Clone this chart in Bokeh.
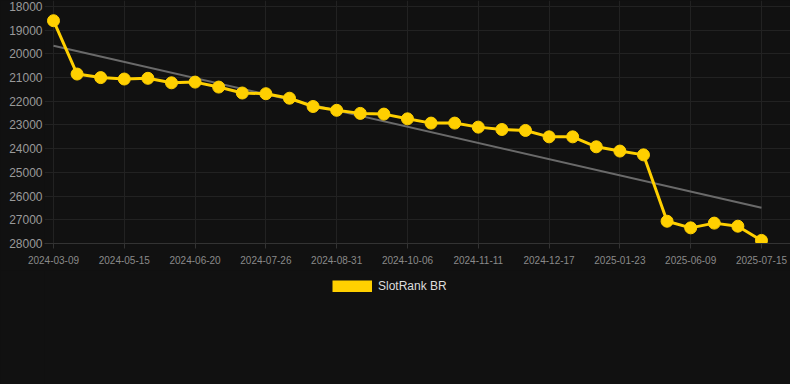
import numpy as np
from bokeh.plotting import figure
from bokeh.layouts import column
from bokeh.models import (ColumnDataSource, Range1d, FixedTicker, Legend, LegendItem)
from bokeh.embed import file_html
from bokeh.resources import INLINE

dates = ["2024-03-09", "2024-03-31", "2024-04-22", "2024-05-15", "2024-05-27", "2024-06-08",
         "2024-06-20", "2024-07-02", "2024-07-14", "2024-07-26", "2024-08-07", "2024-08-19",
         "2024-08-31", "2024-09-12", "2024-09-24", "2024-10-06", "2024-10-18", "2024-10-30",
         "2024-11-11", "2024-11-23", "2024-12-05", "2024-12-17", "2024-12-29", "2025-01-10",
         "2025-01-23", "2025-02-04", "2025-05-04", "2025-06-09", "2025-06-21", "2025-07-03",
         "2025-07-15"]
ranks = [18600, 20850, 21000, 21060, 21030, 21220, 21190, 21400, 21650, 21680, 21870, 22220,
         22380, 22510, 22540, 22740, 22920, 22920, 23090, 23190, 23230, 23500, 23500, 23920,
         24100, 24260, 27060, 27340, 27140, 27270, 27870]
y_ticks = [18000, 19000, 20000, 21000, 22000, 23000, 24000, 25000, 26000, 27000, 28000]
series_name = "SlotRank BR"

BG = "#111111"
GOLD = "#FFD000"

idx = list(range(len(dates)))
src = ColumnDataSource(dict(x=idx, y=ranks))

coef = np.polyfit(idx, ranks, 1)
trend_x = [idx[0], idx[-1]]
trend_y = [float(np.polyval(coef, v)) for v in trend_x]

p = figure(width=790, height=270, output_backend="svg", toolbar_location=None,
           x_range=Range1d(-0.381, 31.23), y_range=Range1d(28000, 17747),
           background_fill_color=BG, border_fill_color=BG,
           min_border_left=44, min_border_right=0, min_border_top=0, min_border_bottom=27)
p.outline_line_color = None

p.line(trend_x, trend_y, line_color="#6a6a6a", line_width=2)
p.line("x", "y", source=src, line_color=GOLD, line_width=3)
p.scatter("x", "y", source=src, size=12, fill_color=GOLD, line_color=GOLD)

# axes
xa = p.xaxis[0]
xa.ticker = FixedTicker(ticks=idx[::3])
xa.major_label_overrides = {i: dates[i] for i in idx[::3]}
xa.axis_line_color = "#333333"
xa.major_tick_line_color = "#333333"
xa.major_tick_in = 0
xa.major_tick_out = 5
xa.minor_tick_line_color = None
xa.major_label_text_color = "#8a8a8a"
xa.major_label_text_font = "Liberation Sans"
xa.major_label_text_font_size = "10px"
xa.major_label_standoff = 7

ya = p.yaxis[0]
ya.ticker = FixedTicker(ticks=y_ticks)
ya.axis_line_color = None
ya.major_tick_line_color = None
ya.minor_tick_line_color = None
ya.major_tick_in = 0
ya.major_tick_out = 0
ya.minor_tick_in = 0
ya.minor_tick_out = 0
ya.major_label_text_color = "#9a9a9a"
ya.major_label_text_font = "Liberation Sans"
ya.major_label_text_font_size = "12px"
ya.major_label_standoff = 2

p.xgrid.grid_line_color = "#222222"
p.ygrid.grid_line_color = "#222222"
p.xgrid.ticker = FixedTicker(ticks=idx[::3])
p.ygrid.ticker = FixedTicker(ticks=y_ticks)

# legend strip below the chart (its frame is aligned with the chart's frame)
lg = figure(width=790, height=114, output_backend="svg", toolbar_location=None,
            x_axis_type=None, y_axis_type=None,
            x_range=Range1d(0, 1), y_range=Range1d(0, 1),
            background_fill_color=BG, border_fill_color=BG,
            min_border_left=0, min_border_right=0, min_border_top=0, min_border_bottom=0)
lg.outline_line_color = None
lg.xgrid.visible = False
lg.ygrid.visible = False
# series drawn out of this strip's view; only its legend swatch shows
swatch = lg.line("x", "y", source=src, line_color=GOLD, line_width=12, line_cap="butt")
legend = Legend(items=[LegendItem(label=series_name, renderers=[swatch])],
                orientation="horizontal", location=(288, 91),
                background_fill_alpha=0, border_line_color=None,
                label_text_color="#dddddd", label_text_font="Liberation Sans",
                label_text_font_size="12px", glyph_width=40, glyph_height=12,
                label_standoff=6, padding=0, margin=0)
lg.add_layout(legend)

layout = column(p, lg, spacing=0)

html = file_html(layout, INLINE)
html = html.replace("</head>", "<style>html,body{margin:0;padding:0;background:#111111;overflow:hidden;}</style></head>", 1)
open("out.html", "w").write(html)
